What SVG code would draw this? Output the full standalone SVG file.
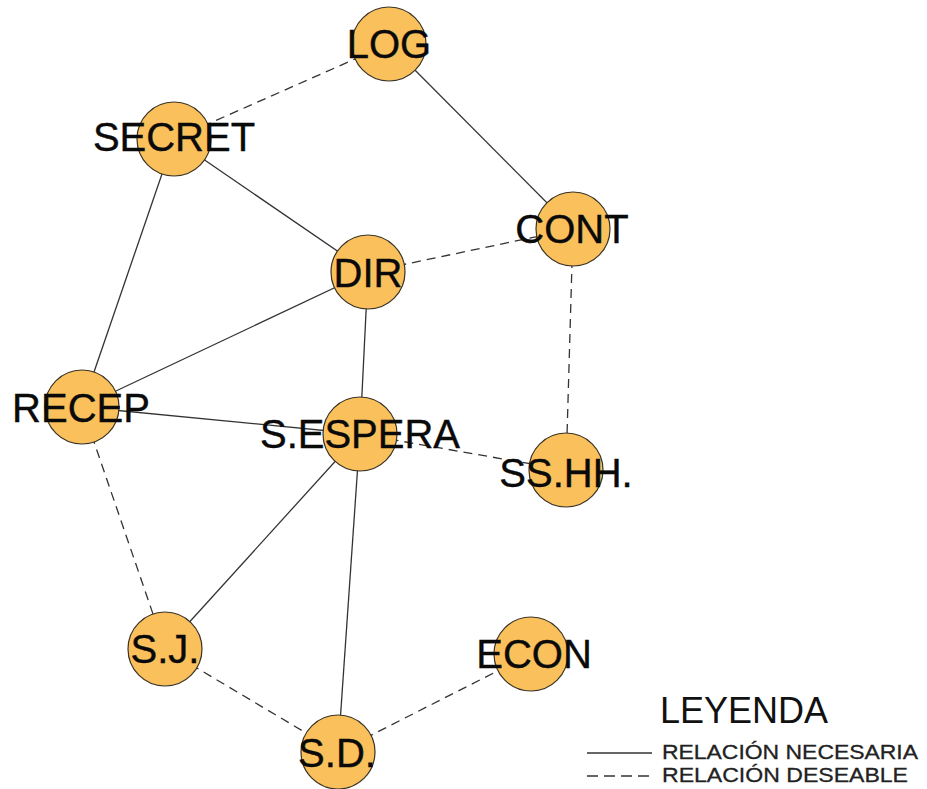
<svg xmlns="http://www.w3.org/2000/svg" width="927" height="789" viewBox="0 0 927 789">
  <style>
    .node circle { fill: #FAC05C; stroke: #3a3326; stroke-width: 1.2; }
    .node text { font-family: "Liberation Sans", Arial, sans-serif; font-size: 40px; fill: #0a0a0a; text-anchor: middle; stroke: #0a0a0a; stroke-width: 0.4; }
    .edge { stroke: #333; stroke-width: 1.3; fill: none; }
    .dash { stroke-dasharray: 9 6; }
    .legend-title { font-family: "Liberation Sans", Arial, sans-serif; font-size: 36px; fill: #111; }
    .legend-item { font-family: "Liberation Sans", Arial, sans-serif; font-size: 21px; fill: #222; stroke: #222; stroke-width: 0.3; }
  </style>
  <rect width="927" height="789" fill="#ffffff"/>

  <!-- connectors -->
  <g id="connectors">
    <!-- necessary relations (solid) -->
    <line class="edge" x1="389" y1="44" x2="573" y2="229"/>
    <line class="edge" x1="174" y1="139" x2="368" y2="272"/>
    <line class="edge" x1="174" y1="139" x2="82" y2="407"/>
    <line class="edge" x1="82" y1="407" x2="368" y2="272"/>
    <line class="edge" x1="82" y1="407" x2="360" y2="434"/>
    <line class="edge" x1="368" y1="272" x2="360" y2="434"/>
    <line class="edge" x1="360" y1="434" x2="165" y2="649"/>
    <line class="edge" x1="360" y1="434" x2="338" y2="752"/>
    <!-- desirable relations (dashed) -->
    <line class="edge dash" x1="389" y1="44" x2="174" y2="139"/>
    <line class="edge dash" x1="368" y1="272" x2="573" y2="229"/>
    <line class="edge dash" x1="573" y1="229" x2="566" y2="470"/>
    <line class="edge dash" x1="360" y1="434" x2="566" y2="470"/>
    <line class="edge dash" x1="82" y1="407" x2="165" y2="649"/>
    <line class="edge dash" x1="165" y1="649" x2="338" y2="752"/>
    <line class="edge dash" x1="338" y1="752" x2="531" y2="654"/>
  </g>

  <!-- nodes -->
  <g id="LOG" class="node"><circle cx="389" cy="44" r="37"/><text x="389" y="58">LOG</text></g>
  <g id="SECRET" class="node"><circle cx="174" cy="139" r="37"/><text x="174" y="151">SECRET</text></g>
  <g id="CONT" class="node"><circle cx="573" cy="229" r="37"/><text x="572" y="243">CONT</text></g>
  <g id="DIR" class="node"><circle cx="368" cy="272" r="37"/><text x="368" y="287">DIR</text></g>
  <g id="RECEP" class="node"><circle cx="82" cy="407" r="37"/><text x="81" y="422">RECEP</text></g>
  <g id="S.ESPERA" class="node"><circle cx="360" cy="434" r="37"/><text x="360" y="448">S.ESPERA</text></g>
  <g id="SS.HH." class="node"><circle cx="566" cy="470" r="37"/><text x="566" y="487">SS.HH.</text></g>
  <g id="S.J." class="node"><circle cx="165" cy="649" r="37"/><text x="165" y="663">S.J.</text></g>
  <g id="ECON" class="node"><circle cx="531" cy="654" r="37"/><text x="534" y="668">ECON</text></g>
  <g id="S.D." class="node"><circle cx="338" cy="752" r="37"/><text x="337" y="767">S.D.</text></g>

  <!-- legend -->
  <g id="legend">
    <text class="legend-title" x="660" y="723">LEYENDA</text>
    <line class="edge" x1="587" y1="753" x2="652" y2="753"/>
    <text class="legend-item" x="662" y="759" textLength="256" lengthAdjust="spacingAndGlyphs">RELACIÓN NECESARIA</text>
    <line class="edge dash" x1="587" y1="776" x2="652" y2="776" style="stroke-dasharray: 11 6"/>
    <text class="legend-item" x="662" y="782" textLength="246" lengthAdjust="spacingAndGlyphs">RELACIÓN DESEABLE</text>
  </g>
</svg>
